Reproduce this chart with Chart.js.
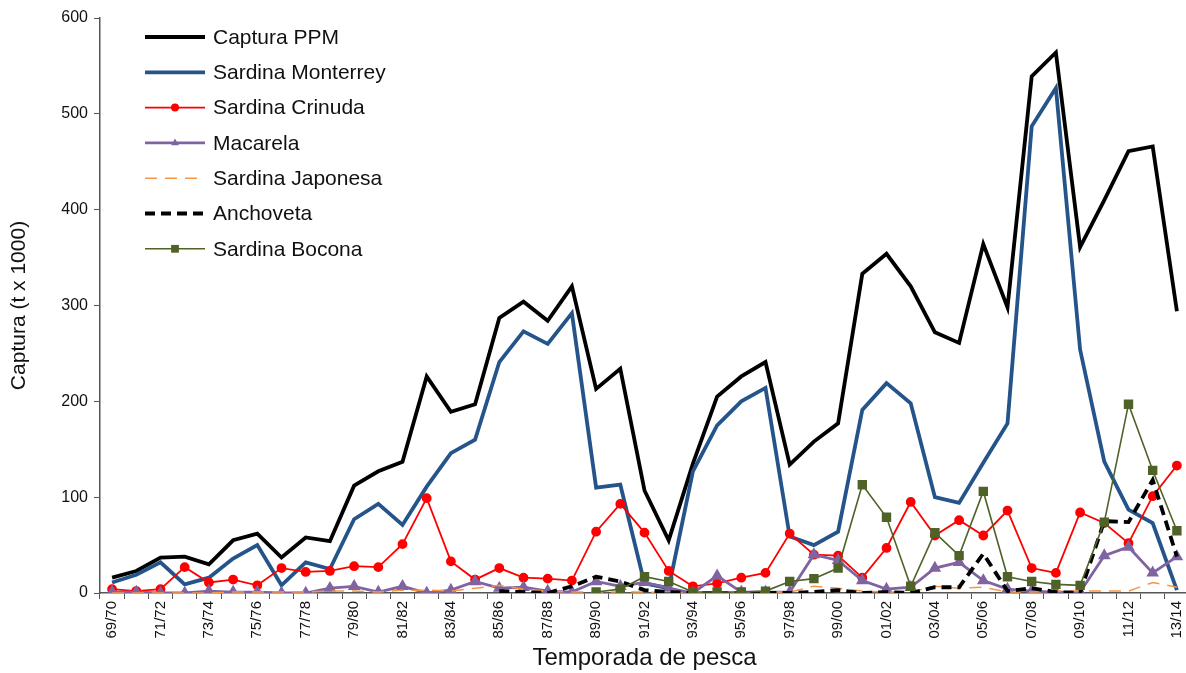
<!DOCTYPE html>
<html lang="es">
<head>
<meta charset="utf-8">
<title>Captura por temporada</title>
<script src="https://cdn.jsdelivr.net/npm/chart.js@4.4.1/dist/chart.umd.min.js"></script>
<style>
    html, body { margin: 0; padding: 0; background: #fff; overflow: hidden; }
    #contenedor { width: 1186px; height: 673px; overflow: hidden; }
    canvas { display: block; }
</style>
</head>
<body>
<div id="contenedor">
    <canvas id="capturaChart" width="1200" height="673"></canvas>
</div>
<script>
// Temporadas de pesca (eje X)
const temporadas = [
    '69/70', '70/71', '71/72', '72/73', '73/74', '74/75', '75/76', '76/77', '77/78', '78/79',
    '79/80', '80/81', '81/82', '82/83', '83/84', '84/85', '85/86', '86/87', '87/88', '88/89',
    '89/90', '90/91', '91/92', '92/93', '93/94', '94/95', '95/96', '96/97', '97/98', '98/99',
    '99/00', '00/01', '01/02', '02/03', '03/04', '04/05', '05/06', '06/07', '07/08', '08/09',
    '09/10', '10/11', '11/12', '12/13', '13/14'
];

// Marcas del eje Y (t x 1000)
const ticksY = [0, 100, 200, 300, 400, 500, 600];

// Captura por especie (t x 1000)
const capturaPPM = [
    16, 23, 37, 38, 30, 55, 62, 37, 58, 54,
    112, 127, 137, 226, 189, 197, 287, 304, 284, 320,
    213, 234, 107, 55, 135, 205, 226, 241, 134, 158,
    177, 333, 354, 320, 272, 261, 364, 298, 539, 564,
    361, 410, 461, 466, 294
];
const sardinaMonterrey = [
    11, 19, 32, 9, 16, 36, 50, 8, 32, 25,
    77, 93, 71, 111, 146, 160, 241, 273, 260, 292,
    110, 113, 10, 5, 127, 175, 200, 214, 59, 50,
    64, 191, 219, 198, 100, 94, 136, 177, 487, 527,
    254, 137, 87, 73, 3
];
const sardinaCrinuda = [
    4, 2, 4, 27, 11, 14, 8, 26, 22, 23,
    28, 27, 51, 99, 33, 14, 26, 16, 15, 13,
    64, 93, 63, 23, 7, 10, 16, 21, 62, 40,
    39, 16, 47, 95, 60, 76, 60, 86, 26, 21,
    84, 73, 52, 101, 133
];
const macarela = [
    1, 1, 0, 0, 2, 1, 1, 0, 0, 5,
    7, 1, 7, 0, 3, 12, 5, 6, 2, 1,
    12, 7, 11, 5, 0, 18, 1, 1, 1, 40,
    34, 13, 4, 6, 26, 32, 13, 4, 2, 1,
    1, 39, 48, 21, 38
];
const sardinaJaponesa = [
    0, 0, 0, 0, 0, 1, 1, 1, 1, 2,
    2, 1, 3, 3, 2, 5, 8, 4, 2, 1,
    1, 1, 1, 0, 0, 0, 1, 1, 1, 7,
    5, 2, 1, 1, 7, 5, 6, 1, 1, 2,
    2, 2, 2, 11, 6
];
const anchoveta = [
    null, null, null, null, null, null, null, null, null, null,
    null, null, null, null, null, null, 2, 1, 0, 7,
    17, 12, 3, 1, 0, 0, 0, 0, 0, 1,
    3, 0, 1, 0, 6, 6, 41, 2, 5, 1,
    0, 75, 74, 118, 38
];
const sardinaBocona = [
    null, null, null, null, null, null, null, null, null, null,
    null, null, null, null, null, null, null, null, null, null,
    1, 4, 17, 12, 1, 1, 1, 2, 12, 15,
    26, 113, 79, 7, 63, 39, 106, 17, 12, 9,
    8, 74, 197, 128, 65
];

const FUENTE = 'Arial, "Liberation Sans", sans-serif';

// Leyenda dibujada dentro del área del gráfico
const leyendaInterna = {
    id: 'leyendaInterna',
    afterDraw(chart) {
        const ctx = chart.ctx;
        const x0 = 145, x1 = 205, xTexto = 213;
        ctx.save();
        chart.data.datasets.forEach((ds, i) => {
            const y = 37 + i * 35.3;
            ctx.beginPath();
            ctx.setLineDash(ds.borderDash || []);
            ctx.lineWidth = ds.borderWidth;
            ctx.strokeStyle = ds.borderColor;
            ctx.moveTo(x0, y);
            ctx.lineTo(x1, y);
            ctx.stroke();
            ctx.setLineDash([]);
            if (ds.pointRadius > 0) {
                dibujarMarcador(ctx, ds.pointStyle, (x0 + x1) / 2, y, ds.pointRadius, ds.pointBackgroundColor);
            }
            ctx.fillStyle = '#111';
            ctx.font = '21px ' + FUENTE;
            ctx.textBaseline = 'middle';
            ctx.fillText(ds.label, xTexto, y + 1);
        });
        ctx.restore();
    }
};

function dibujarMarcador(ctx, estilo, x, y, r, color) {
    ctx.fillStyle = color;
    ctx.beginPath();
    if (estilo === 'rect') {
        const s = r * Math.SQRT1_2;
        ctx.rect(x - s, y - s, 2 * s, 2 * s);
    } else if (estilo === 'triangle') {
        ctx.moveTo(x, y - r);
        ctx.lineTo(x + r * 0.866, y + r * 0.5);
        ctx.lineTo(x - r * 0.866, y + r * 0.5);
        ctx.closePath();
    } else {
        ctx.arc(x, y, r, 0, Math.PI * 2);
    }
    ctx.fill();
}

function serie(label, data, color, ancho, extra) {
    return Object.assign({
        label: label,
        data: data,
        borderColor: color,
        backgroundColor: color,
        pointBackgroundColor: color,
        pointBorderColor: color,
        borderWidth: ancho,
        pointRadius: 0,
        pointHoverRadius: 0,
        tension: 0,
        fill: false,
        spanGaps: false
    }, extra || {});
}

function inicializarGrafico() {
    const ctx = document.getElementById('capturaChart').getContext('2d');
    window.capturaChart = new Chart(ctx, {
        type: 'line',
        data: {
            labels: temporadas,
            datasets: [
                serie('Captura PPM', capturaPPM, '#000000', 3.8, { order: 6 }),
                serie('Sardina Monterrey', sardinaMonterrey, '#24548a', 3.8, { order: 5 }),
                serie('Sardina Crinuda', sardinaCrinuda, '#ff0000', 1.8, { order: 4, pointRadius: 4, pointStyle: 'circle' }),
                serie('Macarela', macarela, '#8064a2', 2.8, { order: 3, pointRadius: 4.5, pointStyle: 'triangle' }),
                serie('Sardina Japonesa', sardinaJaponesa, '#f79646', 1.5, { order: 2, borderDash: [12, 8] }),
                serie('Anchoveta', anchoveta, '#000000', 3.8, { order: 1, borderDash: [10, 6] }),
                serie('Sardina Bocona', sardinaBocona, '#4f6228', 1.6, { order: 0, pointRadius: 5.5, pointStyle: 'rect' })
            ]
        },
        options: {
            responsive: false,
            animation: false,
            events: [],
            layout: { padding: { top: 18, right: 11, bottom: 0, left: 0 } },
            plugins: {
                legend: { display: false },
                tooltip: { enabled: false }
            },
            scales: {
                x: {
                    type: 'category',
                    offset: true,
                    afterFit(scale) { scale.height = 80; },
                    border: { display: true, color: '#555', width: 1.5 },
                    grid: { offset: true, drawOnChartArea: false, drawTicks: true, tickLength: 6, color: '#555' },
                    ticks: {
                        autoSkip: false,
                        minRotation: 90,
                        maxRotation: 90,
                        padding: 2,
                        color: '#111',
                        font: { family: FUENTE, size: 15 },
                        callback: function(value, index) {
                            return index % 2 === 0 ? temporadas[index] : '';
                        }
                    },
                    title: {
                        display: true,
                        text: 'Temporada de pesca',
                        color: '#111',
                        font: { family: FUENTE, size: 24 },
                        padding: { top: 0, bottom: 0 }
                    }
                },
                y: {
                    min: ticksY[0],
                    max: ticksY[ticksY.length - 1],
                    afterFit(scale) { scale.width = 100; },
                    afterBuildTicks(scale) {
                        scale.ticks = ticksY.map(v => ({ value: v }));
                    },
                    border: { display: true, color: '#555', width: 1.5 },
                    grid: { drawOnChartArea: false, drawTicks: true, tickLength: 6, color: '#555' },
                    ticks: {
                        padding: 6,
                        color: '#111',
                        font: { family: FUENTE, size: 16 }
                    },
                    title: {
                        display: true,
                        text: 'Captura (t x 1000)',
                        color: '#111',
                        font: { family: FUENTE, size: 21 },
                        padding: { top: 7, bottom: 4 }
                    }
                }
            }
        },
        plugins: [leyendaInterna]
    });
}

document.addEventListener('DOMContentLoaded', inicializarGrafico);
</script>
</body>
</html>
